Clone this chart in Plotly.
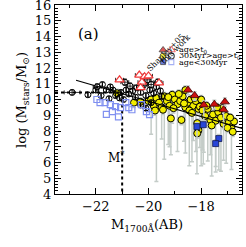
import plotly.graph_objects as go

# ---------------- data ----------------
# Shapley+05, 30Myr>age>t0 (open black circles)
sh_mid_x = [-22.9, -22.3, -22.0, -21.95, -21.75, -21.6, -21.45, -21.35, -21.25, -21.05,
            -20.9, -20.85, -20.75, -20.7, -20.6, -20.5, -20.45, -20.3, -20.2, -20.1,
            -20.05, -19.95, -19.9, -19.8, -19.7, -19.65, -19.55, -19.5, -20.3, -20.1,
            -19.9, -21.5, -21.8, -21.1, -20.95]
sh_mid_y = [10.45, 10.3, 10.6, 10.8, 10.95, 10.6, 10.8, 10.6, 10.25, 10.45,
            11.1, 10.6, 10.35, 10.85, 10.55, 10.15, 10.75, 10.45, 10.9, 10.25,
            11.25, 10.6, 10.95, 10.4, 10.8, 11.1, 10.55, 10.2, 9.65, 9.45,
            9.8, 10.05, 10.25, 10.1, 10.0]
sh_mid_xerr = [0.3, 0.0, 0.0, 0.15, 0.0, 0.0, 0.0, 0.0, 0.0, 0.0,
               0.15, 0.0, 0.0, 0.15, 0.0, 0.0, 0.0, 0.0, 0.15, 0.0,
               0.15, 0.0, 0.15, 0.0, 0.0, 0.15, 0.0, 0.0, 0.0, 0.0,
               0.0, 0.0, 0.0, 0.0, 0.0]
sh_mid_yerr = [0.15, 0.15, 0.15, 0.2, 0.15, 0.15, 0.15, 0.15, 0.15, 0.15,
               0.2, 0.15, 0.15, 0.2, 0.15, 0.15, 0.15, 0.15, 0.2, 0.15,
               0.2, 0.15, 0.2, 0.15, 0.15, 0.2, 0.15, 0.15, 0.15, 0.15,
               0.15, 0.15, 0.15, 0.15, 0.15]

# Shapley+05, age>t0 (open red triangles)
sh_old_x = [-21.1, -20.35, -20.15, -20.0, -20.25, -20.3, -19.6]
sh_old_y = [11.25, 11.55, 11.45, 11.5, 11.1, 10.75, 11.05]

# Shapley+05, age<30Myr (open blue squares)
sh_young_x = [-21.96, -21.84, -21.65, -21.45, -21.25, -21.06, -21.14, -21.37, -20.86,
              -20.75, -20.63, -20.08, -19.96, -20.27, -21.6]
sh_young_y = [10.0, 9.8, 9.8, 9.67, 9.55, 9.48, 8.9, 9.23, 9.8,
              9.48, 9.35, 9.23, 9.04, 9.67, 9.05]

# this work, 30Myr>age>t0 (yellow filled circles)
tw_mid_x = [-21.2, -20.55, -20.3, -20.0, -19.9, -19.8, -19.7, -19.6, -19.5, -19.4,
            -19.3, -19.2, -19.1, -19.0, -18.9, -18.8, -18.7, -18.6, -18.5, -18.4,
            -18.3, -18.2, -18.1, -18.0, -19.45, -19.25, -19.05, -18.85, -18.65, -18.45,
            -18.25, -18.05, -18.6, -18.35, -18.15, -17.95, -17.85, -17.75, -17.65, -17.55,
            -17.45, -17.35, -17.25, -17.15, -17.05, -16.95, -16.85, -16.75, -17.0, -17.6,
            -18.1, -18.15, -17.2, -16.9, -17.4, -17.8, -19.75, -19.15, -18.75, -16.8]
tw_mid_y = [10.4, 9.8, 9.85, 9.9, 10.0, 9.6, 10.1, 9.8, 9.5, 10.2,
            9.9, 9.6, 10.3, 10.0, 9.7, 9.9, 10.2, 9.5, 9.8, 10.0,
            9.6, 9.9, 9.4, 10.0, 9.35, 10.15, 9.45, 10.35, 9.75, 9.3,
            10.1, 9.55, 10.6, 9.15, 8.5, 9.3, 8.95, 9.4, 8.7, 9.05,
            8.65, 9.2, 8.85, 8.45, 8.95, 8.55, 8.25, 8.6, 8.2, 8.35,
            8.05, 7.85, 9.45, 8.85, 9.5, 9.6, 9.3, 8.8, 8.7, 7.95]
tw_mid_errlo = [0.3, 0.3, 0.3, 0.3, 2.2, 0.4, 5.3, 0.3, 2.0, 4.0,
                0.3, 2.6, 1.8, 0.3, 3.0, 0.3, 0.3, 2.9, 0.3, 0.4,
                2.2, 3.2, 0.3, 4.2, 0.3, 3.0, 0.3, 0.3, 2.4, 3.5,
                0.3, 2.6, 0.3, 3.1, 0.3, 2.5, 0.3, 3.3, 2.2, 0.3,
                2.9, 0.3, 3.4, 0.3, 3.0, 0.3, 2.7, 0.3, 0.3, 3.2,
                0.3, 0.3, 0.3, 0.3, 0.3, 0.3, 0.3, 2.3, 0.3, 0.3]
tw_mid_errhi = [0.25] * 60

# this work, age>t0 (filled red triangles)
tw_old_x = [-18.5, -18.25, -17.9, -17.5, -17.1, -17.15]
tw_old_y = [10.6, 10.25, 9.65, 9.7, 9.85, 9.35]
tw_old_errlo = [0.3, 0.3, 3.0, 0.3, 0.3, 3.2]

# this work, age<30Myr (filled blue squares)
tw_young_x = [-18.16, -17.92, -17.33, -17.45]
tw_young_y = [8.28, 8.4, 7.52, 7.2]
tw_young_errlo = [3.0, 2.5, 2.0, 1.8]

# fit line and characteristic magnitude
fit_x = [-22.75, -16.35]
fit_y = [11.22, 8.12]
mstar_x = -21.0
mstar_logm = 10.45

# axes
x_range = [-23.55, -16.45]
y_range = [4, 16]
x_ticks = [-22, -20, -18]
y_ticks = list(range(4, 17))

FONT = "DejaVu Serif"
GRAY = "#c4ccc8"

fig = go.Figure()

# dotted reference lines
fig.add_trace(go.Scatter(x=[x_range[0], mstar_x], y=[mstar_logm, mstar_logm], mode="lines",
                         line=dict(color="black", width=2, dash="dot"), hoverinfo="skip"))
fig.add_trace(go.Scatter(x=[mstar_x, mstar_x], y=[mstar_logm, y_range[0]], mode="lines",
                         line=dict(color="black", width=2, dash="dot"), hoverinfo="skip"))

# this work: error bars + markers
fig.add_trace(go.Scatter(
    x=tw_mid_x, y=tw_mid_y, mode="markers",
    marker=dict(symbol="circle", size=7, color="#f2ee00", line=dict(color="black", width=1)),
    error_y=dict(type="data", symmetric=False, array=tw_mid_errhi, arrayminus=tw_mid_errlo,
                 color=GRAY, thickness=1.5, width=2)))
fig.add_trace(go.Scatter(
    x=tw_old_x, y=tw_old_y, mode="markers",
    marker=dict(symbol="triangle-up", size=8, color="#cc1010", line=dict(color="#400000", width=0.8)),
    error_y=dict(type="data", symmetric=False, array=[0.25] * len(tw_old_x), arrayminus=tw_old_errlo,
                 color=GRAY, thickness=1.5, width=2)))
fig.add_trace(go.Scatter(
    x=tw_young_x, y=tw_young_y, mode="markers",
    marker=dict(symbol="square", size=6, color="#2846d8", line=dict(color="#101850", width=0.8)),
    error_y=dict(type="data", symmetric=False, array=[0.25] * len(tw_young_x), arrayminus=tw_young_errlo,
                 color=GRAY, thickness=1.5, width=2)))

# Shapley+05
fig.add_trace(go.Scatter(
    x=sh_mid_x, y=sh_mid_y, mode="markers",
    marker=dict(symbol="circle-open", size=6, color="black", line=dict(width=1)),
    error_x=dict(type="data", array=sh_mid_xerr, color="black", thickness=0.8, width=2),
    error_y=dict(type="data", array=sh_mid_yerr, color="black", thickness=0.8, width=2)))
fig.add_trace(go.Scatter(
    x=sh_young_x, y=sh_young_y, mode="markers",
    marker=dict(symbol="square-open", size=6, color="#8090f0", line=dict(width=1.2))))
fig.add_trace(go.Scatter(
    x=sh_old_x, y=sh_old_y, mode="markers",
    marker=dict(symbol="triangle-up", size=8, color="white", line=dict(color="#f03a3a", width=1.2)),
    error_x=dict(type="data", array=[0.15] * len(sh_old_x), color="black", thickness=0.8, width=2)))

# fit line
fig.add_trace(go.Scatter(x=fit_x, y=fit_y, mode="lines", line=dict(color="black", width=1.2),
                         hoverinfo="skip"))

# legend symbols on an overlay (paper-like) axis
leg_rows_y = [0.762, 0.730, 0.698]
leg_col_x = [0.578, 0.622]
fig.add_trace(go.Scatter(
    x=[leg_col_x[0]] * 3, y=leg_rows_y, xaxis="x2", yaxis="y2", mode="markers",
    marker=dict(symbol=["triangle-up", "circle", "square"], size=[7, 6, 5],
                color=["#cc1010", "#f2ee00", "#2846d8"], line=dict(color="black", width=0.8))))
fig.add_trace(go.Scatter(
    x=[leg_col_x[1]] * 3, y=leg_rows_y, xaxis="x2", yaxis="y2", mode="markers",
    marker=dict(symbol=["triangle-up", "circle", "square"], size=[7, 6, 5],
                color="white", line=dict(color=["#f03a3a", "black", "#8090f0"], width=1.1))))

leg_texts = ["age&gt;t<sub>0</sub>", "30Myr&gt;age&gt;t<sub>0</sub>", "age&lt;30Myr"]
annotations = []
for t, yy in zip(leg_texts, leg_rows_y):
    annotations.append(dict(text=t, xref="paper", yref="paper", x=0.655, y=yy,
                            xanchor="left", yanchor="middle", showarrow=False,
                            font=dict(family=FONT, size=8, color="black")))
annotations += [
    dict(text="this work", xref="paper", yref="paper", x=0.645, y=0.865, textangle=-45,
         showarrow=False, font=dict(family=FONT, size=8, color="black")),
    dict(text="Shapley+05", xref="paper", yref="paper", x=0.718, y=0.873, textangle=-45,
         showarrow=False, font=dict(family=FONT, size=8, color="black")),
    dict(text="(a)", xref="paper", yref="paper", x=0.11, y=0.905, showarrow=False,
         font=dict(family=FONT, size=15, color="black")),
    dict(text="M<sup>*</sup>", xref="x", yref="y", x=mstar_x - 0.2, y=6.35, showarrow=False,
         font=dict(family=FONT, size=12, color="black")),
    dict(text="log (M<sub>stars</sub>/M<sub>⊙</sub>)", xref="paper", yref="paper",
         x=-0.23, y=0.5, textangle=-90, showarrow=False,
         font=dict(family=FONT, size=13, color="black")),
    dict(text="M<sub>1700Å</sub>(AB)", xref="paper", yref="paper", x=0.49, y=-0.22,
         showarrow=False, font=dict(family=FONT, size=13, color="black")),
]

axis_common = dict(showgrid=False, zeroline=False, showline=True, linecolor="black", linewidth=1,
                   ticks="inside", mirror="allticks", tickcolor="black", ticklabeloverflow="allow",
                   automargin=False, tickfont=dict(family=FONT, size=13, color="black"))

fig.update_layout(
    width=246, height=247, margin=dict(l=55, r=4, t=5, b=53, autoexpand=False),
    paper_bgcolor="white", plot_bgcolor="white", showlegend=False,
    xaxis=dict(range=x_range, tickvals=x_ticks, ticktext=["−22", "−20", "−18"], ticklen=6,
               minor=dict(dtick=1, ticklen=3, ticks="inside", tickcolor="black"), **axis_common),
    yaxis=dict(range=y_range, tickvals=y_ticks, ticklen=6,
               minor=dict(dtick=0.2, ticklen=3, ticks="inside", tickcolor="black"), **axis_common),
    xaxis2=dict(overlaying="x", range=[0, 1], visible=False),
    yaxis2=dict(overlaying="y", range=[0, 1], visible=False),
    annotations=annotations,
)

fig.write_html("out.html", config={"displayModeBar": False},
               post_script="document.body.style.margin='0px';")
